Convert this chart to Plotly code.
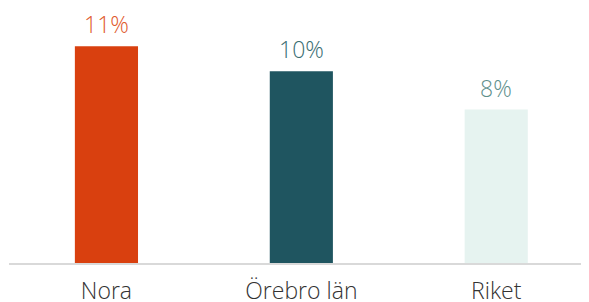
import plotly.graph_objects as go

categories = ["Nora", "Örebro län", "Riket"]
values = [11.3, 10.0, 8.0]
labels = ["11%", "10%", "8%"]
bar_colors = ["#D9400F", "#1F5560", "#E6F3F0"]
label_colors = ["#E0592B", "#3A6D72", "#5E8F8B"]

FONT = "Open Sans"

fig = go.Figure()
fig.add_trace(go.Bar(
    x=categories, y=values, marker=dict(color=bar_colors, line=dict(width=0)),
    width=0.324, hoverinfo="skip",
))
for c, v, t, col in zip(categories, values, labels, label_colors):
    fig.add_annotation(x=c, y=v, text=t, showarrow=False, yanchor="bottom", yshift=4,
                       font=dict(family=FONT, size=23, color=col, weight=300))

# page body has an 8px margin, so the figure is sized to fit inside the window
fig.update_layout(
    width=581, height=294,
    margin=dict(l=1, r=0, t=0, b=39),
    paper_bgcolor="white", plot_bgcolor="white",
    showlegend=False,
    xaxis=dict(range=[-0.5, 2.476], showgrid=False, zeroline=False, automargin=False,
               showline=True, linecolor="#D9D9D9", linewidth=2,
               ticks="", ticklabelstandoff=6,
               tickfont=dict(family=FONT, size=23, color="#333333", weight=300)),
    yaxis=dict(range=[0, 13.3], visible=False, automargin=False),
)
fig.write_html("out.html")
